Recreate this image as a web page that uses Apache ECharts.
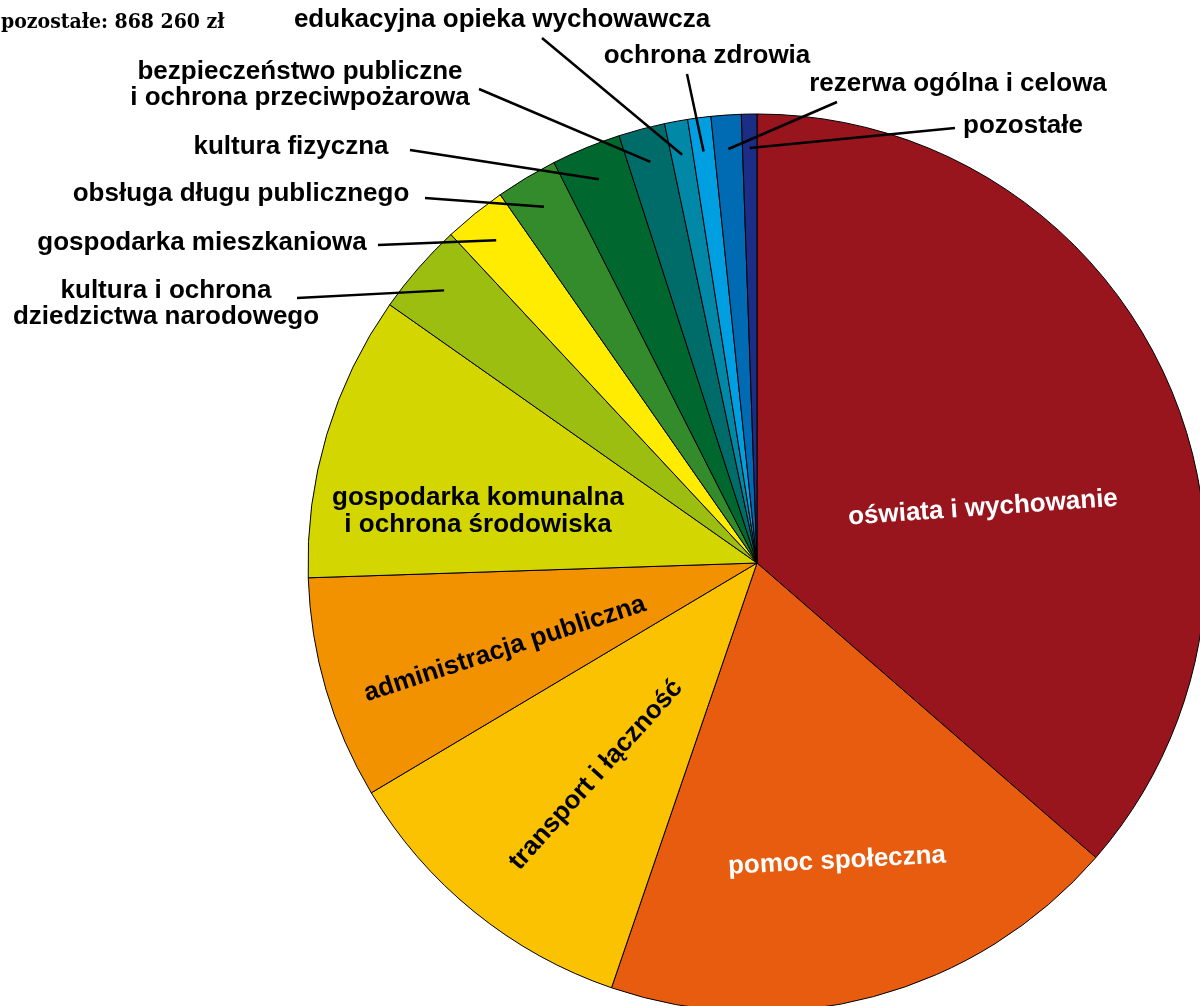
<!DOCTYPE html>
<html>
<head>
<meta charset="utf-8">
<script src="https://cdn.jsdelivr.net/npm/echarts@6/dist/echarts.min.js"></script>
<style>
  html, body { margin: 0; padding: 0; background: #fff; }
  #chart { width: 1200px; height: 1006px; }
</style>
</head>
<body>
<div id="chart"></div>
<script>
// wydatki budzetu (tys. zl), kolejnosc zgodnie z ruchem wskazowek od godz. 12
const categories = [
  'oświata i wychowanie',
  'pomoc społeczna',
  'transport i łączność',
  'administracja publiczna',
  'gospodarka komunalna\ni ochrona środowiska',
  'kultura i ochrona\ndziedzictwa narodowego',
  'gospodarka mieszkaniowa',
  'obsługa długu publicznego',
  'kultura fizyczna',
  'bezpieczeństwo publiczne\ni ochrona przeciwpożarowa',
  'edukacyjna opieka wychowawcza',
  'ochrona zdrowia',
  'rezerwa ogólna i celowa',
  'pozostałe'
];
const values = [56850, 29470, 17490, 12540, 16060, 5165, 3515, 3470, 3905, 2605, 1300, 1300, 1690, 868.26];
const titleText = 'pozostałe: 868 260 zł';

const colors = ['#99151E', '#E85C0F', '#FAC200', '#F29200', '#D4D600', '#9CBE10', '#FFEC00',
  '#348B2C', '#00672F', '#006C6A', '#0088A6', '#009FE1', '#006AB2', '#1B2D84'];

// etykiety wewnatrz wycinkow: [x, y, obrot, kolor]
const innerLabels = [
  [983, 508, 4, '#fff'],
  [837, 861, 3, '#fff'],
  [596, 775, 48, '#000'],
  [505, 649, 18, '#000'],
  [478, 511, 0, '#000']
];
// etykiety zewnetrzne: srodek tekstu i koniec linii przy tekscie
const outerLabels = [
  null, null, null, null, null,
  { x: 166, y: 304, end: [297, 298] },
  { x: 202, y: 243, end: [378, 245] },
  { x: 241, y: 194, end: [425, 198] },
  { x: 291, y: 147, end: [410, 150] },
  { x: 300, y: 85, end: [479, 89] },
  { x: 502, y: 20, end: [542, 38] },
  { x: 707, y: 56, end: [687, 74] },
  { x: 958, y: 84, end: [837, 102] },
  { x: 1023, y: 126, end: [955, 128] }
];

const font = 'Liberation Sans, Arial, sans-serif';
const center = [757, 563];

let pieData = categories.map(function (name, i) {
  return {
    name: name,
    value: values[i],
    itemStyle: { color: colors[i] },
    label: innerLabels[i]
      ? { show: true, color: innerLabels[i][3] }
      : { show: false }
  };
});

let guideData = categories.map(function (name, i) {
  return {
    name: name,
    value: values[i],
    label: { show: !!outerLabels[i] },
    labelLine: { show: !!outerLabels[i] }
  };
});

let option = {
  animation: false,
  title: {
    text: titleText,
    left: -4,
    top: 7,
    textStyle: {
      fontFamily: 'DejaVu Serif Condensed, DejaVu Serif, serif',
      fontWeight: 'bold',
      fontSize: 21,
      color: '#000'
    }
  },
  series: [
    {
      type: 'pie',
      z: 2,
      center: center,
      radius: 449,
      startAngle: 90,
      clockwise: true,
      avoidLabelOverlap: false,
      silent: true,
      itemStyle: { borderColor: '#000', borderWidth: 1 },
      label: {
        position: 'inside',
        fontFamily: font,
        fontWeight: 'bold',
        fontSize: 26,
        lineHeight: 27,
        align: 'center'
      },
      labelLine: { show: false },
      labelLayout: function (params) {
        let p = innerLabels[params.dataIndex];
        if (!p) return {};
        return { x: p[0], y: p[1], rotate: p[2], align: 'center', verticalAlign: 'middle' };
      },
      data: pieData
    },
    {
      // niewidoczna kopia o mniejszym promieniu - linie odnosnikow zaczynaja sie wewnatrz wycinkow
      type: 'pie',
      z: 10,
      center: center,
      radius: 415,
      startAngle: 90,
      clockwise: true,
      avoidLabelOverlap: false,
      silent: true,
      itemStyle: { color: 'rgba(0,0,0,0)', borderWidth: 0 },
      label: {
        position: 'outside',
        color: '#000',
        fontFamily: font,
        fontWeight: 'bold',
        fontSize: 26,
        lineHeight: 26,
        align: 'center'
      },
      labelLine: {
        length: 10,
        length2: 0,
        smooth: false,
        lineStyle: { color: '#000', width: 2.5 }
      },
      labelLayout: function (params) {
        let p = outerLabels[params.dataIndex];
        if (!p) return {};
        let out = { x: p.x, y: p.y, align: 'center', verticalAlign: 'middle' };
        if (params.labelLinePoints && params.labelLinePoints[0]) {
          out.labelLinePoints = [params.labelLinePoints[0], p.end, p.end];
        }
        return out;
      },
      data: guideData
    }
  ]
};

let myChart = echarts.init(document.getElementById('chart'));
myChart.setOption(option);
</script>
</body>
</html>
